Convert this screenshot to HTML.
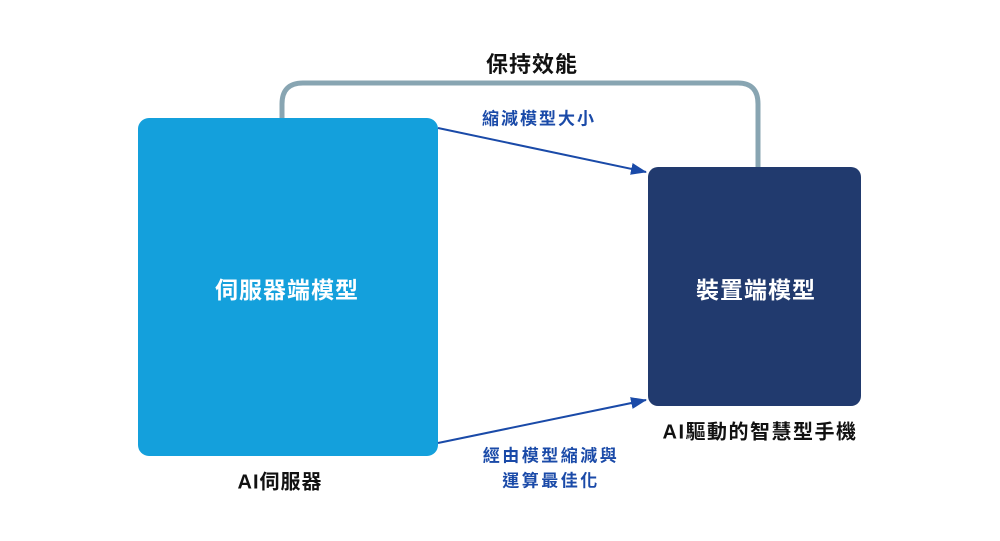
<!DOCTYPE html>
<html><head><meta charset="utf-8"><style>
body{margin:0;width:1000px;height:541px;background:#fff;overflow:hidden;position:relative;font-family:"Liberation Sans","Noto Sans CJK TC",sans-serif}
.t{position:absolute;white-space:nowrap;transform:translate(-50%,-50%)}
</style></head><body>
<svg width="1000" height="541" style="position:absolute;left:0;top:0">
<defs><marker id="b" markerWidth="16" markerHeight="12" refX="15" refY="6" orient="auto" markerUnits="userSpaceOnUse"><path d="M0,0 L16,6 L0,12 z" fill="#1a4aa8"/></marker></defs>
<path d="M282,120 V104 Q282,83 303,83 H738 Q758,83 758,104 V168" fill="none" stroke="#88a5b2" stroke-width="5"/>
<rect x="138" y="118" width="300" height="338" rx="11" fill="#14a0dc"/>
<rect x="648" y="167" width="213" height="239" rx="10" fill="#213a6e"/>
<line x1="438" y1="128" x2="646" y2="172" stroke="#1a4aa8" stroke-width="2" marker-end="url(#b)"/>
<line x1="438" y1="443" x2="646" y2="400" stroke="#1a4aa8" stroke-width="2" marker-end="url(#b)"/>
</svg>
<div class="t" style="left:532px;top:63px;font-size:22px;letter-spacing:1px;font-weight:bold;color:#111">保持效能</div>
<div class="t" style="left:539px;top:117px;font-size:17px;letter-spacing:2px;font-weight:bold;color:#1a4aa8">縮減模型大小</div>
<div class="t" style="left:287px;top:288px;font-size:23px;letter-spacing:1px;font-weight:bold;color:#fff">伺服器端模型</div>
<div class="t" style="left:756px;top:288px;font-size:23px;letter-spacing:1px;font-weight:bold;color:#fff">裝置端模型</div>
<div class="t" style="left:280px;top:480px;font-size:20px;letter-spacing:1px;font-weight:bold;color:#111">AI伺服器</div>
<div class="t" style="left:760px;top:430px;font-size:20px;letter-spacing:1.5px;font-weight:bold;color:#111">AI驅動的智慧型手機</div>
<div class="t" style="left:551px;top:454px;font-size:17px;letter-spacing:2.5px;font-weight:bold;color:#1a4aa8">經由模型縮減與</div>
<div class="t" style="left:551px;top:479px;font-size:17px;letter-spacing:2.5px;font-weight:bold;color:#1a4aa8">運算最佳化</div>
</body></html>
